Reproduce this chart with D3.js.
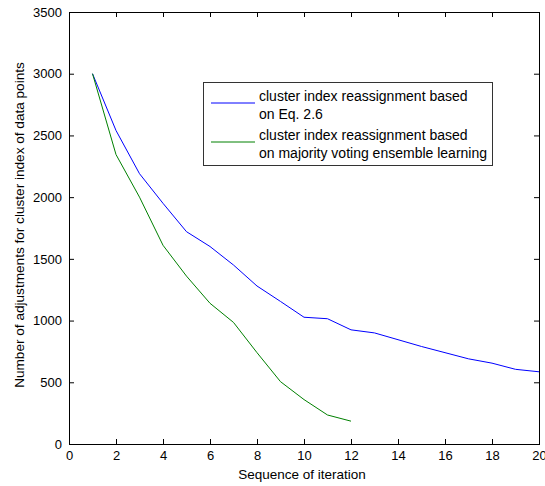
<!DOCTYPE html>
<html>
<head>
<meta charset="utf-8">
<script src="https://cdn.jsdelivr.net/npm/d3@7"></script>
<style>
  body { margin: 0; background: #fff; }
  svg text { font-family: "Liberation Sans", Arial, sans-serif; fill: #000; }
</style>
</head>
<body>
<svg id="chart" width="545" height="486"></svg>
<script>
// Daten
const iterations = [1, 2, 3, 4, 5, 6, 7, 8, 9, 10, 11, 12, 13, 14, 15, 16, 17, 18, 19, 20];
const eqValues = [3000, 2540, 2190, 1950, 1720, 1600, 1450, 1280, 1155, 1027, 1015, 925, 900, 845, 790, 740, 690, 655, 605, 585];
const votingIterations = [1, 2, 3, 4, 5, 6, 7, 8, 9, 10, 11, 12];
const votingValues = [3000, 2345, 2000, 1610, 1360, 1140, 985, 740, 505, 360, 235, 185];
const xTicks = [0, 2, 4, 6, 8, 10, 12, 14, 16, 18, 20];
const yTicks = [0, 500, 1000, 1500, 2000, 2500, 3000, 3500];
const legendLabels = [
  ["cluster index reassignment based", "on Eq. 2.6"],
  ["cluster index reassignment based", "on majority voting ensemble learning"]
];
const colors = ["#0000ff", "#008000"];

// Plotbereich
const svg = d3.select("#chart");
const plotLeft = 69, plotRight = 539, plotTop = 12, plotBottom = 444;

const x = d3.scaleLinear().domain([0, 20]).range([plotLeft, plotRight]);
const y = d3.scaleLinear().domain([0, 3500]).range([plotBottom, plotTop]);

const tickLen = 5;
const fmt = d3.format("d");

// Achsen (Ticks nach innen, wie in MATLAB)
svg.append("g")
    .attr("transform", `translate(0,${plotBottom})`)
    .call(d3.axisBottom(x).tickValues(xTicks).tickFormat(fmt).tickSizeInner(-tickLen).tickSizeOuter(0).tickPadding(7))
    .call(g => g.select(".domain").remove())
    .call(g => g.selectAll("text").attr("font-size", "13px").attr("font-family", "Liberation Sans, Arial, sans-serif"));

svg.append("g")
    .attr("transform", `translate(${plotLeft},0)`)
    .call(d3.axisLeft(y).tickValues(yTicks).tickFormat(fmt).tickSizeInner(-tickLen).tickSizeOuter(0).tickPadding(7))
    .call(g => g.select(".domain").remove())
    .call(g => g.selectAll("text").attr("font-size", "13px").attr("font-family", "Liberation Sans, Arial, sans-serif"));

// Ticks oben und rechts
svg.append("g")
    .attr("transform", `translate(0,${plotTop})`)
    .call(d3.axisTop(x).tickValues(xTicks).tickSizeInner(-tickLen).tickSizeOuter(0).tickFormat(""))
    .call(g => g.select(".domain").remove());

svg.append("g")
    .attr("transform", `translate(${plotRight},0)`)
    .call(d3.axisRight(y).tickValues(yTicks).tickSizeInner(-tickLen).tickSizeOuter(0).tickFormat(""))
    .call(g => g.select(".domain").remove());

// Rahmen
svg.append("rect")
    .attr("x", plotLeft + 0.5)
    .attr("y", plotTop + 0.5)
    .attr("width", plotRight - plotLeft)
    .attr("height", plotBottom - plotTop)
    .attr("fill", "none")
    .attr("stroke", "#000")
    .attr("stroke-width", 1);

// Linien
const line = d3.line().x(d => x(d[0])).y(d => y(d[1]));

svg.append("path")
    .datum(iterations.map((it, i) => [it, eqValues[i]]))
    .attr("d", line)
    .attr("fill", "none")
    .attr("stroke", colors[0])
    .attr("stroke-width", 1);

svg.append("path")
    .datum(votingIterations.map((it, i) => [it, votingValues[i]]))
    .attr("d", line)
    .attr("fill", "none")
    .attr("stroke", colors[1])
    .attr("stroke-width", 1);

// Achsenbeschriftungen
svg.append("text")
    .attr("x", 302)
    .attr("y", 479)
    .attr("text-anchor", "middle")
    .attr("font-size", "13.5px")
    .text("Sequence of iteration");

svg.append("text")
    .attr("transform", `translate(24,225) rotate(-90)`)
    .attr("text-anchor", "middle")
    .attr("font-size", "13.6px")
    .text("Number of adjustments for cluster index of data points");

// Legende
const legend = svg.append("g");
legend.append("rect")
    .attr("x", 203.5)
    .attr("y", 82.5)
    .attr("width", 289)
    .attr("height", 83)
    .attr("fill", "#fff")
    .attr("stroke", "#333")
    .attr("stroke-width", 1);

legendLabels.forEach((lines, i) => {
  const ly = 103 + i * 39;
  legend.append("line")
      .attr("x1", 211).attr("x2", 255)
      .attr("y1", ly).attr("y2", ly)
      .attr("stroke", colors[i])
      .attr("stroke-width", 1);
  lines.forEach((t, j) => {
    legend.append("text")
        .attr("x", 259)
        .attr("y", ly - 2 + j * 17.5)
        .attr("font-size", "14px")
        .text(t);
  });
});
</script>
</body>
</html>
